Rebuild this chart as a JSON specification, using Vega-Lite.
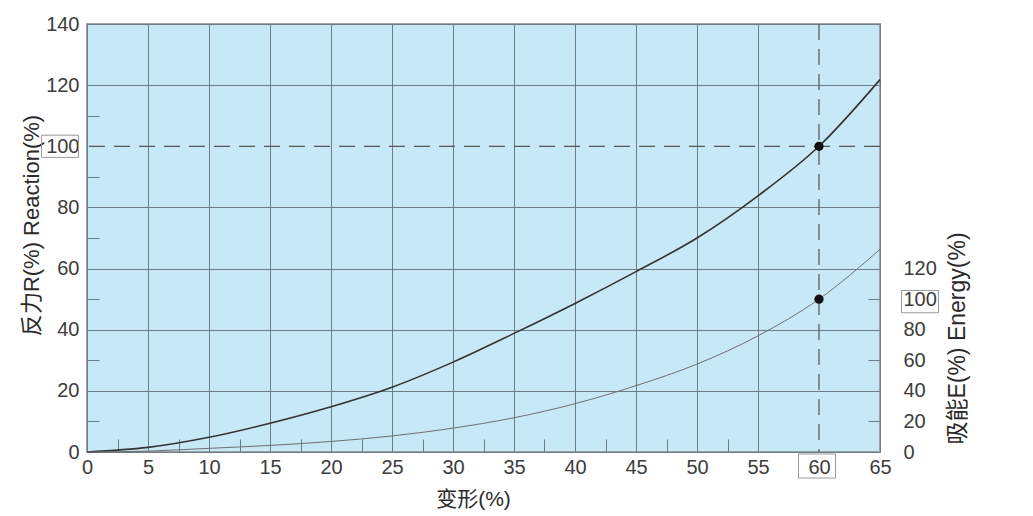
{
  "$schema": "https://vega.github.io/schema/vega-lite/v6.json",
  "width": 793,
  "height": 428,
  "autosize": "none",
  "padding": {"left": 87, "top": 24, "right": 153, "bottom": 64},
  "background": "white",
  "config": {
    "view": {"fill": "#c6e8f7", "stroke": "#9aa3a8", "strokeWidth": 2},
    "font": "Liberation Sans, Noto Sans CJK SC",
    "axis": {
      "labelFont": "Liberation Sans, Noto Sans CJK SC",
      "labelFontSize": 20,
      "labelColor": "#3c3c3c",
      "labelFlush": false,
      "titleFont": "Liberation Sans, Noto Sans CJK SC",
      "titleFontSize": 22,
      "titleFontWeight": "normal",
      "titleColor": "#2a2a2a"
    }
  },
  "datasets": {
    "curves": [
      {"x": 0, "reaction": 0, "energy": 0},
      {"x": 5, "reaction": 1.5, "energy": 0.6},
      {"x": 10, "reaction": 4.8, "energy": 2.4},
      {"x": 15, "reaction": 9.4, "energy": 4.3},
      {"x": 20, "reaction": 14.8, "energy": 6.9},
      {"x": 25, "reaction": 21.2, "energy": 10.5},
      {"x": 30, "reaction": 29.4, "energy": 15.6},
      {"x": 35, "reaction": 38.8, "energy": 22.4},
      {"x": 40, "reaction": 48.6, "energy": 31.6},
      {"x": 45, "reaction": 59, "energy": 43.4},
      {"x": 50, "reaction": 70, "energy": 57.5},
      {"x": 55, "reaction": 83.8, "energy": 76},
      {"x": 60, "reaction": 100, "energy": 100},
      {"x": 65, "reaction": 121.8, "energy": 132.6}
    ],
    "marks": [{"x": 60, "reaction": 100, "energy": 100}]
  },
  "resolve": {"scale": {"y": "independent"}, "axis": {"x": "independent", "y": "independent"}},
  "layer": [
    {
      "data": {"name": "curves"},
      "mark": {"type": "point", "opacity": 0},
      "encoding": {
        "x": {"field": "x", "type": "quantitative", "scale": {"domain": [0, 65], "nice": false, "zero": false},
          "axis": {"orient": "bottom", "values": [2.5, 7.5, 12.5, 17.5, 22.5, 27.5, 32.5, 37.5, 42.5, 47.5, 52.5], "labels": false, "grid": false, "domain": false, "ticks": true, "tickSize": -13, "tickColor": "#6d7c85", "tickWidth": 1, "title": null}},
        "y": {"field": "reaction", "type": "quantitative", "scale": {"domain": [0, 140], "nice": false, "zero": false},
          "axis": {"orient": "left", "values": [10, 30, 50, 70, 90, 110], "labels": false, "grid": false, "domain": false, "ticks": true, "tickSize": -12, "tickColor": "#6d7c85", "tickWidth": 1, "title": null}}
      }
    },
    {
      "data": {"name": "curves"},
      "mark": {"type": "point", "opacity": 0},
      "encoding": {
        "x": {"field": "x", "type": "quantitative", "scale": {"domain": [0, 65], "nice": false, "zero": false}, "axis": null},
        "y": {"field": "energy", "type": "quantitative", "scale": {"domain": [0, 280], "nice": false, "zero": false},
          "axis": {"orient": "right", "values": [20, 60, 100], "labels": false, "grid": false, "domain": false, "ticks": true, "tickSize": -12, "tickColor": "#6d7c85", "tickWidth": 1, "title": null}}
      }
    },
    {
      "data": {"name": "curves"},
      "mark": {"type": "line", "color": "#333333", "strokeWidth": 1.6, "interpolate": "monotone"},
      "encoding": {
        "x": {"field": "x", "type": "quantitative", "scale": {"domain": [0, 65], "nice": false, "zero": false},
          "axis": {"orient": "bottom", "values": [0, 5, 10, 15, 20, 25, 30, 35, 40, 45, 50, 55, 60, 65], "grid": true, "gridColor": "#6d7c85", "gridWidth": 1,
            "gridOpacity": {"condition": {"test": "datum.value == 60", "value": 0}, "value": 1},
            "ticks": false, "domain": false, "labelPadding": 5,
            "title": "变形(%)", "titleFontSize": 21, "titleX": 386, "titleY": 47, "titleAlign": "center", "titleBaseline": "middle"}},
        "y": {"field": "reaction", "type": "quantitative", "scale": {"domain": [0, 140], "nice": false, "zero": false},
          "axis": {"orient": "left", "values": [0, 20, 40, 60, 80, 100, 120, 140], "grid": true, "gridColor": "#6d7c85", "gridWidth": 1,
            "gridOpacity": {"condition": {"test": "datum.value == 100", "value": 0}, "value": 1},
            "ticks": false, "domain": false, "labelPadding": 8,
            "title": "反力R(%)  Reaction(%)", "titleAngle": -90, "titleX": -56, "titleY": 201, "titleAlign": "center", "titleBaseline": "middle"}}
      }
    },
    {
      "data": {"name": "curves"},
      "mark": {"type": "line", "color": "#6f6f6f", "strokeWidth": 1, "interpolate": "monotone"},
      "encoding": {
        "x": {"field": "x", "type": "quantitative", "scale": {"domain": [0, 65], "nice": false, "zero": false}, "axis": null},
        "y": {"field": "energy", "type": "quantitative", "scale": {"domain": [0, 280], "nice": false, "zero": false},
          "axis": {"orient": "right", "values": [0, 20, 40, 60, 80, 100, 120], "grid": false, "ticks": false, "domain": false, "labelPadding": 23, "labelAlign": "left",
            "title": "吸能E(%)  Energy(%)", "titleFontSize": 23, "titleAngle": -90, "titleX": 77, "titleY": 314, "titleAlign": "center", "titleBaseline": "middle"}}
      }
    },
    {
      "data": {"name": "marks"},
      "mark": {"type": "rule", "color": "#555555", "strokeWidth": 1.2, "strokeDash": [16, 9]},
      "encoding": {
        "y": {"field": "reaction", "type": "quantitative", "scale": {"domain": [0, 140], "nice": false, "zero": false}, "axis": null}
      }
    },
    {
      "data": {"name": "marks"},
      "mark": {"type": "rule", "color": "#555555", "strokeWidth": 1.2, "strokeDash": [16, 9]},
      "encoding": {
        "x": {"field": "x", "type": "quantitative", "scale": {"domain": [0, 65], "nice": false, "zero": false}, "axis": null}
      }
    },
    {
      "data": {"name": "marks"},
      "mark": {"type": "circle", "color": "#111111", "size": 85, "opacity": 1},
      "encoding": {
        "x": {"field": "x", "type": "quantitative", "scale": {"domain": [0, 65], "nice": false, "zero": false}, "axis": null},
        "y": {"field": "reaction", "type": "quantitative", "scale": {"domain": [0, 140], "nice": false, "zero": false}, "axis": null}
      }
    },
    {
      "data": {"name": "marks"},
      "mark": {"type": "circle", "color": "#111111", "size": 85, "opacity": 1},
      "encoding": {
        "x": {"field": "x", "type": "quantitative", "scale": {"domain": [0, 65], "nice": false, "zero": false}, "axis": null},
        "y": {"field": "energy", "type": "quantitative", "scale": {"domain": [0, 280], "nice": false, "zero": false}, "axis": null}
      }
    },
    {
      "data": {"name": "marks"},
      "mark": {"type": "point", "shape": "M-1,-0.65L1,-0.65L1,0.65L-1,0.65Z", "size": 1369, "filled": false, "color": "#9a9a9a", "strokeWidth": 1, "opacity": 1, "xOffset": -2, "yOffset": 14, "clip": false},
      "encoding": {
        "x": {"field": "x", "type": "quantitative", "scale": {"domain": [0, 65], "nice": false, "zero": false}, "axis": null},
        "y": {"datum": 0, "type": "quantitative", "scale": {"domain": [0, 140], "nice": false, "zero": false}, "axis": null}
      }
    },
    {
      "data": {"name": "marks"},
      "mark": {"type": "point", "shape": "M-1,-0.6L1,-0.6L1,0.6L-1,0.6Z", "size": 1369, "filled": false, "color": "#9a9a9a", "strokeWidth": 1, "opacity": 1, "xOffset": -27, "clip": false},
      "encoding": {
        "x": {"datum": 0, "type": "quantitative", "scale": {"domain": [0, 65], "nice": false, "zero": false}, "axis": null},
        "y": {"field": "reaction", "type": "quantitative", "scale": {"domain": [0, 140], "nice": false, "zero": false}, "axis": null}
      }
    },
    {
      "data": {"name": "marks"},
      "mark": {"type": "point", "shape": "M-1,-0.6L1,-0.6L1,0.6L-1,0.6Z", "size": 1369, "filled": false, "color": "#9a9a9a", "strokeWidth": 1, "opacity": 1, "xOffset": 40, "yOffset": 2.5, "clip": false},
      "encoding": {
        "x": {"datum": 65, "type": "quantitative", "scale": {"domain": [0, 65], "nice": false, "zero": false}, "axis": null},
        "y": {"field": "energy", "type": "quantitative", "scale": {"domain": [0, 280], "nice": false, "zero": false}, "axis": null}
      }
    }
  ]
}
